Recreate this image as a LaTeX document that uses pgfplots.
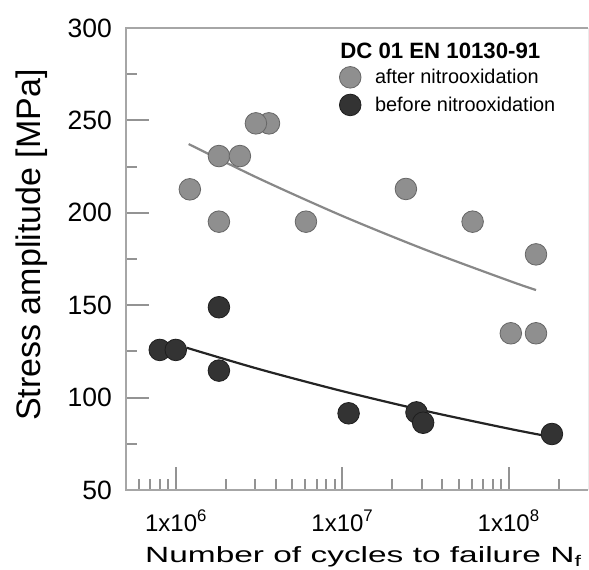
\documentclass[border=0pt]{standalone}
\usepackage{fontspec}
\setmainfont{Liberation Sans}
\usepackage{pgfplots}
\pgfplotsset{compat=1.18}
\usepackage{graphicx}

\definecolor{afterfill}{HTML}{8F8F8F}
\definecolor{afteredge}{HTML}{666666}
\definecolor{beforefill}{HTML}{333333}
\definecolor{beforeedge}{HTML}{1E1E1E}
\definecolor{spine}{HTML}{A6A6A6}
\definecolor{tickc}{HTML}{939393}

\begin{document}
\begin{tikzpicture}
\begin{semilogxaxis}[
  name=ax,
  scale only axis,
  width=462pt, height=462pt,
  xmin=5e5, xmax=3e8,
  ymin=50, ymax=300,
  clip=false,
  axis line style={draw=none},
  tick pos=left,
  tick align=inside,
  major tick length=23pt,
  minor tick length=11pt,
  every tick/.style={draw=tickc, line width=2pt},
  xtick={1e6,1e7,1e8},
  xticklabels={1x10\textsuperscript{6},1x10\textsuperscript{7},1x10\textsuperscript{8}},
  minor xtick={6e5,7e5,8e5,9e5,2e6,3e6,4e6,5e6,6e6,7e6,8e6,9e6,2e7,3e7,4e7,5e7,6e7,7e7,8e7,9e7,2e8},
  ytick={50,100,150,200,250,300},
  minor ytick={75,125,175,225,275},
  /pgf/number format/assume math mode=true,
  xticklabel style={font=\fontsize{24}{26}\selectfont, anchor=base, inner sep=0pt, yshift=-41pt},
  yticklabel style={font=\fontsize{26.5}{28}\selectfont, anchor=east, inner sep=0pt, xshift=-14pt},
  xlabel={\scalebox{1.52}[1]{Number of cycles to failure N\textsubscript{f}}},
  xlabel style={font=\fontsize{22}{24}\selectfont, at={(axis description cs:0.514,-0.158)}, anchor=base, inner sep=0pt},
  ylabel={Stress amplitude [MPa]},
  ylabel style={font=\fontsize{34}{36}\selectfont, at={(axis description cs:-0.184,0.530)}, anchor=base, rotate=0, inner sep=0pt},
  legend style={at={(axis description cs:0.4615,0.917)}, anchor=north west, draw=none, fill=none,
    inner sep=0pt, row sep=6pt, column sep=12pt, font=\fontsize{19.9}{21}\selectfont},
  legend cell align=left,
  legend image code/.code={\draw[#1] plot coordinates {(0pt,0pt)};},
]
% spines
\draw[spine, line width=2.2pt] (rel axis cs:1,0) -- (rel axis cs:0,0) -- (rel axis cs:0,1) -- (rel axis cs:1,1);
\draw[black!8, line width=0.8pt] (rel axis cs:1,0) -- (rel axis cs:1,1);

% fitted curves
\addplot[afterfill!95!black, line width=2.2pt, smooth, forget plot] coordinates {
  (1.19e6,237.2) (3.16e6,218.5) (1e7,198.3) (3.16e7,180.0) (1e8,163.3) (1.46e8,158.2)};
\addplot[beforefill!70!black, line width=2.2pt, smooth, forget plot] coordinates {
  (1.156e6,127.0) (3.16e6,115.4) (1e7,103.5) (3.16e7,92.8) (1e8,83.2) (1.81e8,78.7)};

% measured points
\addplot[only marks, mark=*, mark size=10.8pt, mark options={fill=afterfill, draw=afteredge, line width=0.8pt}] coordinates {
  (1.21e6,212.7) (1.81e6,195.2) (1.81e6,230.7) (2.42e6,230.7) (3.62e6,248.4) (3.02e6,248.4)
  (6.04e6,195.2) (2.41e7,212.9) (6.07e7,195.2) (1.46e8,177.5) (1.03e8,134.8) (1.46e8,134.8)};
\addlegendentry{after nitrooxidation}
\addplot[only marks, mark=*, mark size=10.8pt, mark options={fill=beforefill, draw=beforeedge, line width=0.8pt}] coordinates {
  (7.98e5,125.8) (9.96e5,125.8) (1.81e6,148.9) (1.81e6,114.6) (1.09e7,91.5)
  (2.79e7,92.0) (3.06e7,86.4) (1.82e8,80.3)};
\addlegendentry{before nitrooxidation}

\node[anchor=base west, inner sep=0pt, font=\bfseries\fontsize{22.2}{24}\selectfont]
  at (axis description cs:0.4635,0.935) {DC 01 EN 10130-91};
\end{semilogxaxis}
\path (ax.south west) ++(-126pt,-80pt) coordinate (bbA);
\path (ax.north east) ++(1pt,28pt) coordinate (bbB);
\pgfresetboundingbox
\path[use as bounding box] (bbA) rectangle (bbB);
\end{tikzpicture}
\end{document}
